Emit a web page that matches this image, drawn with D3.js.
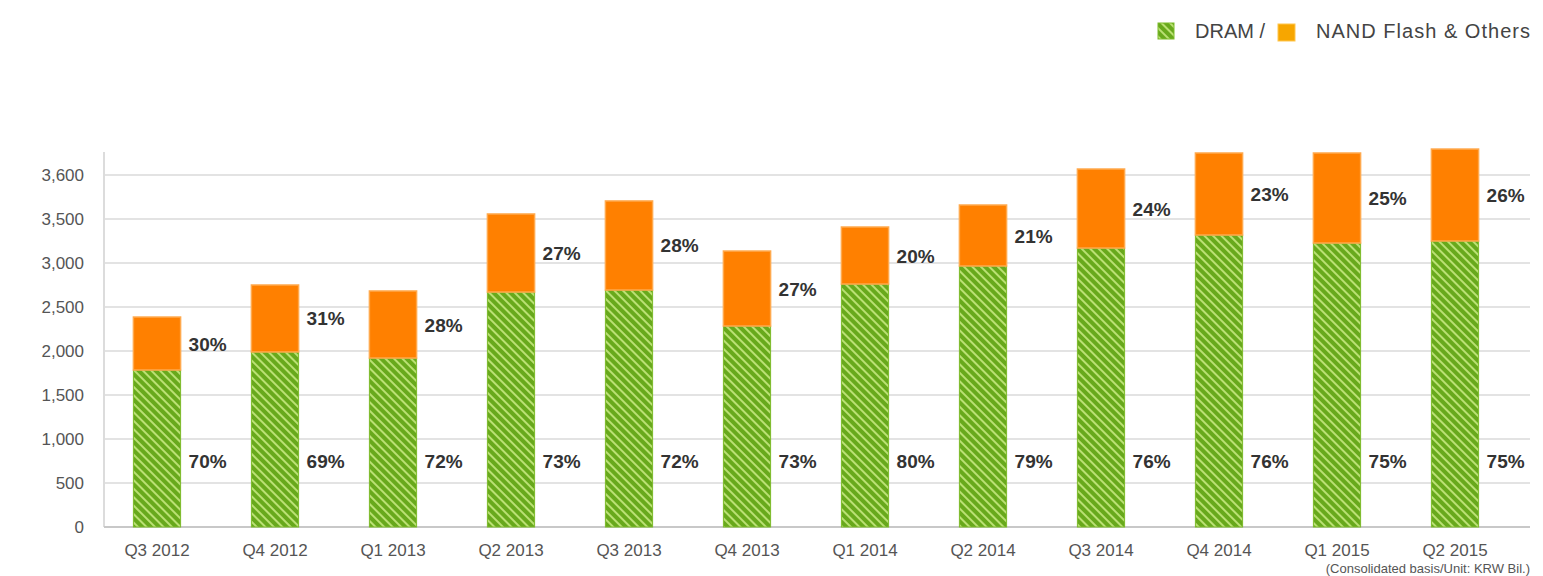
<!DOCTYPE html>
<html><head><meta charset="utf-8">
<script src="https://cdn.jsdelivr.net/npm/d3@7"></script>
<style>body{margin:0;background:#fff;font-family:Arial,"Liberation Sans",sans-serif;}</style>
</head><body>
<svg width="1543" height="576"></svg>
<script>
var quarters = ['Q3 2012','Q4 2012','Q1 2013','Q2 2013','Q3 2013','Q4 2013','Q1 2014','Q2 2014','Q3 2014','Q4 2014','Q1 2015','Q2 2015'];
var dram = [1784, 1989, 1920, 2670, 2693, 2284, 2761, 2966, 3170, 3318, 3227, 3250];
var nand = [602, 761, 762, 887, 1012, 852, 648, 693, 898, 932, 1023, 1045];
var dramPct = ['70%','69%','72%','73%','72%','73%','80%','79%','76%','76%','75%','75%'];
var nandPct = ['30%','31%','28%','27%','28%','27%','20%','21%','24%','23%','25%','26%'];
var yTicks = [0, 500, 1000, 1500, 2000, 2500, 3000, 3500, 4000];
var yTickLabels = ['0','500','1,000','1,500','2,000','2,500','3,000','3,500','3,600'];

var svg = d3.select('svg');
var defs = svg.append('defs');
var pat = defs.append('pattern').attr('id', 'hatch').attr('patternUnits', 'userSpaceOnUse')
    .attr('width', 6).attr('height', 6).attr('patternTransform', 'rotate(-45)');
pat.append('rect').attr('width', 6).attr('height', 6).attr('fill', '#68a91c');
pat.append('line').attr('x1', 1).attr('y1', 0).attr('x2', 1).attr('y2', 6)
    .attr('stroke', '#c4e77e').attr('stroke-width', 1.8);

var y = d3.scaleLinear().domain([0, 4000]).range([527, 175]);
var x = d3.scaleBand().domain(quarters).range([98, 1514]).paddingInner(0.6).paddingOuter(0.3);

// grid
svg.append('g').selectAll('line').data(yTicks).enter().append('line')
    .attr('x1', 104).attr('x2', 1530)
    .attr('y1', d => y(d)).attr('y2', d => y(d))
    .attr('stroke', '#e3e3e3').attr('stroke-width', 2);
svg.append('line').attr('x1', 104).attr('x2', 104).attr('y1', 152).attr('y2', 527)
    .attr('stroke', '#dcdcdc').attr('stroke-width', 2);
svg.append('line').attr('x1', 104).attr('x2', 1530).attr('y1', 527).attr('y2', 527)
    .attr('stroke', '#c8c8c8').attr('stroke-width', 2);

// y labels
svg.append('g').selectAll('text').data(yTicks).enter().append('text')
    .attr('x', 84).attr('y', d => y(d) + 6).attr('text-anchor', 'end')
    .attr('font-size', 17).attr('fill', '#555')
    .text((d, i) => yTickLabels[i]);

// x labels
svg.append('g').selectAll('text').data(quarters).enter().append('text')
    .attr('x', d => x(d) + x.bandwidth() / 2).attr('y', 556).attr('text-anchor', 'middle')
    .attr('font-size', 17).attr('fill', '#555').text(d => d);

// bars
var bw = x.bandwidth();
svg.append('g').selectAll('rect').data(quarters).enter().append('rect')
    .attr('x', d => x(d)).attr('width', bw)
    .attr('y', (d, i) => y(dram[i])).attr('height', (d, i) => y(0) - y(dram[i]))
    .attr('fill', 'url(#hatch)').attr('stroke', '#7dbb2a').attr('stroke-width', 1);
svg.append('g').selectAll('rect').data(quarters).enter().append('rect')
    .attr('x', d => x(d)).attr('width', bw)
    .attr('y', (d, i) => y(dram[i] + nand[i])).attr('height', (d, i) => y(dram[i]) - y(dram[i] + nand[i]))
    .attr('fill', '#ff8000').attr('stroke', '#ffa94d').attr('stroke-width', 1.5);

// percent labels
svg.append('g').selectAll('text').data(quarters).enter().append('text')
    .attr('x', d => x(d) + bw + 8).attr('y', 468)
    .attr('font-size', 19).attr('font-weight', 'bold').attr('fill', '#333')
    .text((d, i) => dramPct[i]);
svg.append('g').selectAll('text').data(quarters).enter().append('text')
    .attr('x', d => x(d) + bw + 8)
    .attr('y', (d, i) => (y(dram[i]) + y(dram[i] + nand[i])) / 2 + 7)
    .attr('font-size', 19).attr('font-weight', 'bold').attr('fill', '#333')
    .text((d, i) => nandPct[i]);

// legend
var lg = svg.append('g');
lg.append('rect').attr('x', 1158).attr('y', 23).attr('width', 16).attr('height', 16)
    .attr('fill', 'url(#hatch)').attr('stroke', '#7dbb2a');
lg.append('text').attr('x', 1195).attr('y', 38).attr('font-size', 20).attr('fill', '#444').text('DRAM /');
lg.append('rect').attr('x', 1278).attr('y', 24).attr('width', 17).attr('height', 17)
    .attr('fill', '#f7a600').attr('stroke', '#ffc64d');
lg.append('text').attr('x', 1316).attr('y', 38).attr('font-size', 20).attr('fill', '#444')
    .attr('textLength', 214).text('NAND Flash & Others');

// source note
svg.append('text').attr('x', 1530).attr('y', 573).attr('text-anchor', 'end')
    .attr('font-size', 13).attr('fill', '#555').text('(Consolidated basis/Unit: KRW Bil.)');
</script>
</body></html>
